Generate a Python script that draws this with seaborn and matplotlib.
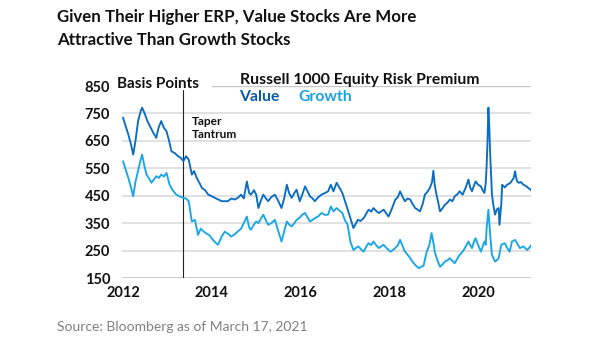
import numpy as np
import pandas as pd
import matplotlib
matplotlib.use("Agg")
import matplotlib.pyplot as plt
import seaborn as sns

# ---------------- data ----------------
value_dates = [2012.00, 2012.06, 2012.12, 2012.18, 2012.23, 2012.28, 2012.34, 2012.40, 2012.43, 2012.48,
               2012.55, 2012.62, 2012.68, 2012.75, 2012.80, 2012.86, 2012.92, 2012.98, 2013.04, 2013.09,
               2013.16, 2013.24, 2013.30, 2013.36, 2013.42, 2013.48, 2013.55, 2013.60, 2013.66, 2013.72,
               2013.78, 2013.85, 2013.92, 2014.00, 2014.07, 2014.15, 2014.22, 2014.29, 2014.36, 2014.44,
               2014.52, 2014.60, 2014.66, 2014.72, 2014.79, 2014.84, 2014.88, 2014.95, 2015.00, 2015.05,
               2015.10, 2015.16, 2015.22, 2015.27, 2015.34, 2015.42, 2015.50, 2015.57, 2015.63, 2015.69,
               2015.74, 2015.80, 2015.86, 2015.91, 2015.98, 2016.04, 2016.10, 2016.16, 2016.21, 2016.27,
               2016.32, 2016.40, 2016.47, 2016.55, 2016.62, 2016.68, 2016.74, 2016.81, 2016.88, 2016.94,
               2017.00, 2017.06, 2017.12, 2017.19, 2017.25, 2017.29, 2017.35, 2017.42, 2017.48, 2017.53,
               2017.59, 2017.64, 2017.70, 2017.76, 2017.81, 2017.87, 2017.93, 2017.98, 2018.05, 2018.13,
               2018.19, 2018.24, 2018.30, 2018.35, 2018.41, 2018.47, 2018.52, 2018.58, 2018.63, 2018.69,
               2018.75, 2018.80, 2018.86, 2018.91, 2018.96, 2018.99, 2019.02, 2019.06, 2019.10, 2019.14,
               2019.20, 2019.25, 2019.31, 2019.36, 2019.42, 2019.47, 2019.53, 2019.58, 2019.65, 2019.72,
               2019.78, 2019.82, 2019.86, 2019.90, 2019.94, 2020.00, 2020.06, 2020.10, 2020.14, 2020.17,
               2020.19, 2020.21, 2020.23, 2020.25, 2020.27, 2020.31, 2020.34, 2020.38, 2020.42, 2020.46,
               2020.48, 2020.52, 2020.54, 2020.60, 2020.65, 2020.71, 2020.75, 2020.80, 2020.83, 2020.87,
               2020.91, 2020.96, 2021.02, 2021.08, 2021.13, 2021.18, 2021.20]
value_bp = [735, 704, 673, 637, 600, 649, 722, 759, 771, 753,
            722, 699, 680, 661, 698, 722, 698, 685, 649, 612,
            606, 594, 588, 576, 594, 582, 527, 540, 515, 497,
            478, 470, 454, 448, 442, 436, 430, 430, 430, 440,
            436, 444, 454, 440, 502, 460, 454, 470, 454, 405,
            430, 454, 440, 430, 445, 454, 430, 405, 440, 490,
            460, 442, 460, 472, 430, 455, 484, 465, 448, 440,
            430, 445, 454, 460, 466, 490, 466, 497, 478, 460,
            430, 400, 368, 332, 350, 362, 358, 368, 385, 399,
            392, 405, 395, 387, 392, 399, 385, 374, 400, 435,
            445, 466, 445, 430, 440, 436, 420, 405, 400, 393,
            420, 454, 465, 478, 500, 541, 490, 454, 425, 393,
            405, 417, 425, 436, 430, 448, 455, 466, 454, 480,
            509, 480, 466, 485, 502, 490, 484, 470, 460, 497,
            560, 650, 771, 700, 600, 454, 417, 381, 400, 405,
            344, 420, 490, 480, 490, 495, 502, 515, 539, 505,
            497, 500, 490, 485, 478, 472, 468]

growth_dates = [2012.00, 2012.06, 2012.12, 2012.18, 2012.23, 2012.28, 2012.32, 2012.38, 2012.43, 2012.48,
                2012.53, 2012.60, 2012.64, 2012.70, 2012.75, 2012.81, 2012.86, 2012.92, 2012.98, 2013.05,
                2013.12, 2013.20, 2013.27, 2013.36, 2013.42, 2013.48, 2013.55, 2013.62, 2013.69, 2013.75,
                2013.82, 2013.88, 2013.94, 2014.02, 2014.08, 2014.14, 2014.22, 2014.29, 2014.36, 2014.44,
                2014.52, 2014.58, 2014.66, 2014.72, 2014.79, 2014.84, 2014.88, 2014.95, 2015.00, 2015.05,
                2015.10, 2015.16, 2015.22, 2015.27, 2015.34, 2015.42, 2015.50, 2015.57, 2015.63, 2015.69,
                2015.74, 2015.80, 2015.86, 2015.91, 2015.98, 2016.04, 2016.10, 2016.16, 2016.21, 2016.27,
                2016.32, 2016.40, 2016.47, 2016.55, 2016.62, 2016.68, 2016.74, 2016.81, 2016.88, 2016.94,
                2017.00, 2017.06, 2017.12, 2017.19, 2017.25, 2017.30, 2017.36, 2017.42, 2017.48, 2017.53,
                2017.59, 2017.64, 2017.70, 2017.76, 2017.81, 2017.87, 2017.93, 2018.02, 2018.08, 2018.13,
                2018.19, 2018.24, 2018.30, 2018.35, 2018.41, 2018.47, 2018.52, 2018.58, 2018.66, 2018.72,
                2018.77, 2018.84, 2018.90, 2018.95, 2019.00, 2019.02, 2019.08, 2019.14, 2019.20, 2019.25,
                2019.31, 2019.36, 2019.42, 2019.47, 2019.53, 2019.58, 2019.65, 2019.72, 2019.78, 2019.82,
                2019.86, 2019.90, 2019.94, 2020.00, 2020.06, 2020.10, 2020.14, 2020.17, 2020.19, 2020.23,
                2020.27, 2020.31, 2020.38, 2020.42, 2020.46, 2020.52, 2020.60, 2020.65, 2020.71, 2020.76,
                2020.83, 2020.88, 2020.94, 2021.02, 2021.10, 2021.15, 2021.20]
growth_bp = [576, 545, 515, 480, 448, 500, 527, 570, 600, 560,
             527, 510, 497, 510, 521, 515, 527, 520, 533, 490,
             470, 454, 448, 442, 440, 430, 356, 362, 307, 330,
             319, 312, 307, 290, 280, 271, 300, 319, 312, 301,
             310, 319, 330, 350, 374, 335, 326, 345, 356, 350,
             365, 381, 360, 344, 350, 362, 320, 283, 320, 356,
             345, 338, 350, 362, 370, 381, 387, 370, 356, 362,
             368, 375, 387, 380, 381, 411, 393, 405, 395, 387,
             360, 344, 283, 252, 260, 265, 255, 246, 265, 277,
             270, 283, 270, 259, 265, 271, 260, 246, 252, 259,
             270, 289, 265, 246, 235, 222, 210, 198, 186, 191,
             195, 246, 270, 314, 270, 246, 215, 191, 200, 210,
             215, 222, 212, 204, 220, 234, 246, 265, 283, 270,
             259, 280, 295, 270, 246, 265, 283, 271, 332, 399,
             307, 234, 210, 215, 222, 271, 277, 260, 246, 283,
             289, 275, 259, 265, 252, 260, 271]

y_ticks = [150, 250, 350, 450, 550, 650, 750, 850]
x_ticks = [2012, 2014, 2016, 2018, 2020]
taper_tantrum = 2013.36

title_lines = ["Given Their Higher ERP, Value Stocks Are More", "Attractive Than Growth Stocks"]
source = "Source: Bloomberg as of March 17, 2021"
legend_title = "Russell 1000 Equity Risk Premium"
series_names = ["Value", "Growth"]
colors = {"Value": "#0a6cc2", "Growth": "#19a6e6"}
label_colors = {"Value": "#0c5aa6", "Growth": "#1ba0e0"}

# ---------------- figure ----------------
sns.set_theme(style="white")
plt.rcParams['font.family'] = ['Lato', 'DejaVu Sans']

W, H = 605, 341
fig = plt.figure(figsize=(W / 100, H / 100), dpi=100)
ax = fig.add_axes([122 / W, 1 - 278 / H, 409 / W, (278 - 86) / H])

df = pd.concat([
    pd.DataFrame({"year": value_dates, "bp": value_bp, "series": "Value"}),
    pd.DataFrame({"year": growth_dates, "bp": growth_bp, "series": "Growth"}),
], ignore_index=True)

# gridlines
for yv in y_ticks:
    if yv == 850:
        ax.axhline(yv, xmin=0.22, xmax=1, color="#c8c8c8", lw=1.0, zorder=0)
    elif yv == 150:
        ax.axhline(yv, color="#c4c4c4", lw=1.2, zorder=0)
    else:
        ax.axhline(yv, color="#d9d9d9", lw=1.1, zorder=0)

sns.lineplot(data=df, x="year", y="bp", hue="series", hue_order=["Growth", "Value"],
             palette=colors, linewidth=1.35, legend=False, ax=ax, estimator=None, sort=False)

ax.axvline(taper_tantrum, ymin=0, ymax=(836 - 150) / 700, color="#222222", lw=0.8, zorder=1)
ax.text(taper_tantrum + 0.19, 697, "Taper\nTantrum", fontsize=8.6, fontweight="bold",
        color="#111111", va="center", ha="left", linespacing=1.2)

ax.set_xlim(2012 - 1 / 44.4, 2012 + 408 / 44.4)
ax.set_ylim(150, 850)
ax.set_xticks(x_ticks)
ax.set_xticklabels([str(x) for x in x_ticks], fontsize=10.5, fontweight="bold", color="#111111")
ax.set_yticks(y_ticks)
ax.set_yticklabels([str(y) for y in y_ticks], fontsize=10.5, fontweight="bold", color="#111111")
ax.tick_params(axis="both", length=0)
ax.tick_params(axis="y", pad=8.5)
ax.tick_params(axis="x", pad=6)
ax.set_xlabel("")
ax.set_ylabel("")
for s in ax.spines.values():
    s.set_visible(False)
ax.set_facecolor("none")

fig.text(117 / W, 1 - 84 / H, "Basis Points", fontsize=11, fontweight="bold",
         color="#111111", ha="left", va="center")
fig.text(240 / W, 1 - 80 / H, legend_title, fontsize=11.3, fontweight="bold",
         color="#111111", ha="left", va="center")
fig.text(239 / W, 1 - 97 / H, series_names[0], fontsize=11.3, fontweight="bold",
         color=label_colors["Value"], ha="left", va="center")
fig.text(298 / W, 1 - 97 / H, series_names[1], fontsize=11.3, fontweight="bold",
         color=label_colors["Growth"], ha="left", va="center")

fig.text(57 / W, 1 - 22 / H, title_lines[0], fontsize=12.2, fontweight="bold", color="#111111",
         ha="left", va="baseline")
fig.text(57 / W, 1 - 45 / H, title_lines[1], fontsize=12.2, fontweight="bold", color="#111111",
         ha="left", va="baseline")
fig.text(57 / W, 1 - 327 / H, source, fontsize=10, color="#808080", ha="left", va="center")

fig.savefig("out.png", dpi=100, facecolor="white")
